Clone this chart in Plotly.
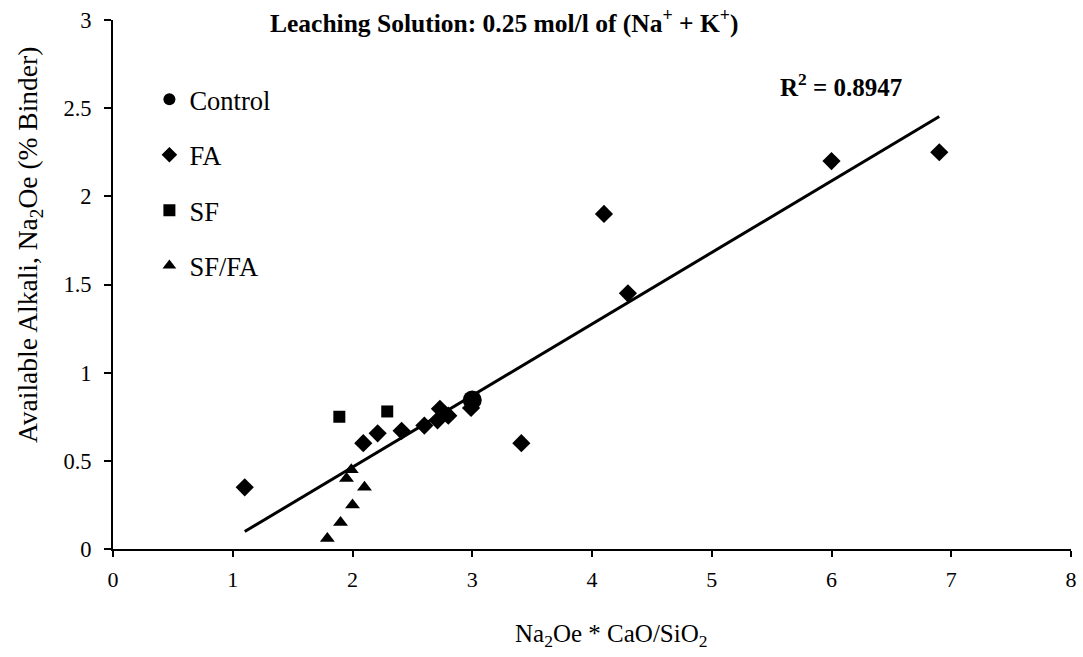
import numpy as np
import plotly.graph_objects as go

# Data
control_x = [3.0]
control_y = [0.845]

fa_x = [1.1, 2.09, 2.21, 2.41, 2.6, 2.71, 2.73, 2.8, 2.99, 3.41, 4.1, 4.3, 6.0, 6.9]
fa_y = [0.35, 0.60, 0.656, 0.67, 0.70, 0.73, 0.795, 0.756, 0.80, 0.60, 1.90, 1.45, 2.20, 2.25]

sf_x = [1.89, 2.29]
sf_y = [0.75, 0.78]

sffa_x = [1.79, 1.9, 2.0, 1.95, 1.99, 2.1]
sffa_y = [0.06, 0.15, 0.25, 0.40, 0.45, 0.35]

r2_text = "R<sup>2</sup> = 0.8947"
title_text = "Leaching Solution: 0.25 mol/l of (Na<sup>+</sup> + K<sup>+</sup>)"
y_title = "Available Alkali, Na<sub>2</sub>Oe (% Binder)"
x_title = "Na<sub>2</sub>Oe * CaO/SiO<sub>2</sub>"

x_ticks = [0, 1, 2, 3, 4, 5, 6, 7, 8]
y_ticks = [0, 0.5, 1, 1.5, 2, 2.5, 3]
y_tick_labels = ["0", "0.5", "1", "1.5", "2", "2.5", "3"]

# Trend line fitted from all points
all_x = np.array(control_x + fa_x + sf_x + sffa_x)
all_y = np.array(control_y + fa_y + sf_y + sffa_y)
slope, intercept = np.polyfit(all_x, all_y, 1)
tx = np.array([min(fa_x), max(fa_x)])
ty = slope * tx + intercept

FONT = "Liberation Serif"

fig = go.Figure()
fig.add_trace(go.Scatter(x=tx, y=ty, mode="lines", line=dict(color="black", width=3),
                         showlegend=False, hoverinfo="skip"))
fig.add_trace(go.Scatter(x=fa_x, y=fa_y, mode="markers", name="FA", legendgroup="b", legendrank=2,
                         marker=dict(symbol="diamond", size=14, color="black")))
fig.add_trace(go.Scatter(x=sf_x, y=sf_y, mode="markers", name="SF", legendgroup="c", legendrank=3,
                         marker=dict(symbol="square", size=12, color="black")))
fig.add_trace(go.Scatter(x=sffa_x, y=sffa_y, mode="markers", name="SF/FA", legendgroup="d", legendrank=4,
                         marker=dict(symbol="triangle-up", size=13, color="black")))
fig.add_trace(go.Scatter(x=control_x, y=control_y, mode="markers", name="Control", legendgroup="a",
                         legendrank=1, marker=dict(symbol="circle", size=19, color="black")))

fig.update_layout(
    width=1083, height=657,
    margin=dict(l=113, r=6, t=20, b=108),
    paper_bgcolor="white", plot_bgcolor="white",
    font=dict(family=FONT, color="black", size=22),
    showlegend=True,
    legend=dict(x=0.038, y=0.895, xanchor="left", yanchor="top",
                font=dict(size=26.5, family=FONT, color="black"), traceorder="grouped",
                tracegroupgap=18, bgcolor="rgba(0,0,0,0)", itemsizing="constant",
                itemwidth=30),
    xaxis=dict(range=[0, 8], tickvals=x_ticks, showline=True, linecolor="black", linewidth=2,
               ticks="outside", ticklen=6, tickwidth=2, tickcolor="black", showgrid=False,
               zeroline=False, tickfont=dict(size=22, family=FONT, color="black"),
               ticklabelstandoff=4),
    yaxis=dict(range=[0, 3], tickvals=y_ticks, ticktext=y_tick_labels, showline=True,
               linecolor="black", linewidth=2, ticks="outside", ticklen=7, tickwidth=2,
               tickcolor="black", showgrid=False, zeroline=False,
               ticklabelstandoff=8,
               tickfont=dict(size=22.5, family=FONT, color="black")),
    annotations=[
        dict(text=y_title, xref="paper", yref="paper", x=-0.0865, y=0.575,
             xanchor="center", yanchor="middle", textangle=-90, showarrow=False,
             font=dict(size=27.5, family=FONT, color="black")),
        dict(text=x_title, xref="paper", yref="paper", x=0.52, y=-0.163,
             xanchor="center", yanchor="middle", showarrow=False,
             font=dict(size=25, family=FONT, color="black")),
        dict(text="<b>" + title_text + "</b>", xref="paper", yref="paper", x=0.408, y=0.997,
             xanchor="center", yanchor="middle", showarrow=False,
             font=dict(size=25.5, family=FONT, color="black")),
        dict(text="<b>" + r2_text + "</b>", xref="x", yref="y", x=6.08, y=2.63,
             xanchor="center", yanchor="middle", showarrow=False,
             font=dict(size=25, family=FONT, color="black")),
    ],
)

fig.write_html("out.html")
